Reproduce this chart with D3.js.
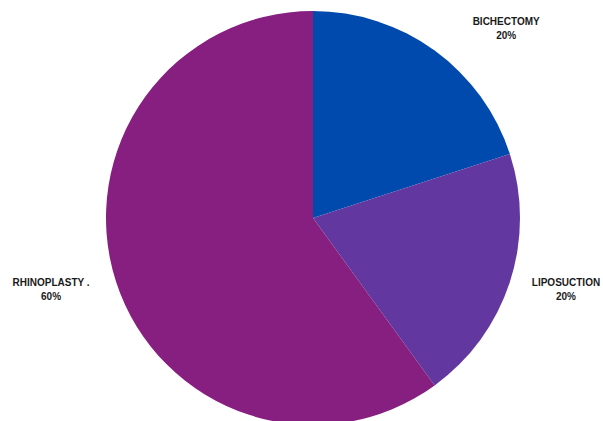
<!DOCTYPE html>
<html>
<head>
<meta charset="utf-8">
<script src="https://cdn.jsdelivr.net/npm/d3@7"></script>
<style>
  html, body { margin: 0; padding: 0; background: #fff; }
  svg { display: block; }
</style>
</head>
<body>
<svg id="chart" width="603" height="421"></svg>
<script>
// Procedure shares
const categories = ["BICHECTOMY", "LIPOSUCTION", "RHINOPLASTY ."];
const values = [20, 20, 60];
const percentLabels = ["20%", "20%", "60%"];
const colors = ["#004aad", "#6337a0", "#861f80"];

const width = 603, height = 421;
const cx = 313, cy = 218, radius = 207;
const labelR = 266;
const topLimit = 28;
// extra horizontal spacing of each label from its ring position
const labelNudgeX = [7, 0, -9];

const svg = d3.select("#chart");
const g = svg.append("g").attr("transform", `translate(${cx},${cy})`);

const pie = d3.pie().sort(null).value(d => d)(values);
const arc = d3.arc().innerRadius(0).outerRadius(radius);

g.selectAll("path.slice")
  .data(pie)
  .join("path")
  .attr("class", "slice")
  .attr("d", arc)
  .attr("fill", (d, i) => colors[i]);

// Labels sit on a ring outside the pie, kept below the top edge
const labels = g.selectAll("g.label")
  .data(pie)
  .join("g")
  .attr("class", "label")
  .attr("transform", (d, i) => {
    const mid = (d.startAngle + d.endAngle) / 2;
    const sx = Math.sin(mid);
    let y = -labelR * Math.cos(mid) - 11;
    let x = labelR * sx;
    const minY = topLimit - cy;
    if (y < minY) {
      y = minY;
      x = Math.sign(sx) * Math.sqrt(labelR * labelR - y * y);
    }
    return `translate(${x + labelNudgeX[i]},${y})`;
  });

labels.append("text")
  .attr("text-anchor", "middle")
  .attr("y", -3.5)
  .attr("font-family", "'Liberation Sans', Arial, sans-serif")
  .attr("font-weight", "bold")
  .attr("font-size", 10)
  .attr("fill", "#1a1a1a")
  .text((d, i) => categories[i]);

labels.append("text")
  .attr("text-anchor", "middle")
  .attr("y", 10.5)
  .attr("font-family", "'Liberation Sans', Arial, sans-serif")
  .attr("font-weight", "bold")
  .attr("font-size", 10)
  .attr("fill", "#1a1a1a")
  .text((d, i) => percentLabels[i]);
</script>
</body>
</html>
